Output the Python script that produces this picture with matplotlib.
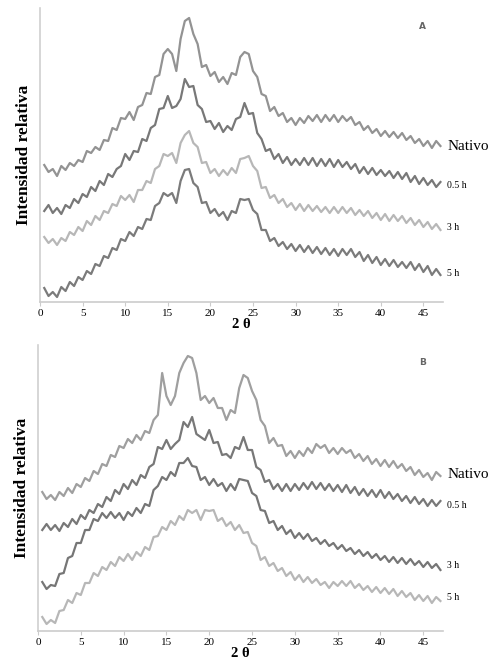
import matplotlib

matplotlib.use("Agg")

import matplotlib.pyplot as plt
import numpy as np

# 2-theta grid of the scans (degrees), 0.5 to 47 in 0.5 steps
two_theta = np.arange(1, 95) * 0.5

# panel A, heights above the axis (pixels)
a_nativo = [137, 130, 133, 126, 136, 132, 139, 136, 142, 140,
            151, 149, 155, 152, 162, 161, 174, 172, 184, 183,
            190, 182, 195, 197, 209, 208, 225, 227, 248, 253,
            248, 231, 263, 281, 284, 268, 258, 235, 237, 226,
            230, 220, 225, 218, 229, 227, 245, 250, 248, 231,
            225, 208, 206, 191, 195, 186, 189, 180, 184, 177,
            184, 179, 186, 181, 187, 180, 187, 181, 187, 180,
            186, 181, 185, 177, 180, 172, 176, 169, 173, 166,
            171, 165, 170, 164, 169, 162, 166, 159, 163, 156,
            161, 154, 161, 156]
a_05h = [91, 97, 89, 94, 88, 97, 94, 103, 99, 108,
         105, 115, 111, 121, 117, 128, 125, 133, 136, 148,
         142, 151, 150, 163, 161, 174, 177, 193, 194, 206,
         194, 196, 203, 223, 215, 216, 197, 193, 180, 181,
         173, 179, 170, 176, 172, 183, 185, 199, 188, 189,
         169, 163, 151, 153, 143, 148, 139, 145, 137, 143,
         137, 144, 137, 144, 136, 143, 136, 143, 135, 142,
         135, 140, 133, 138, 129, 135, 128, 134, 127, 132,
         126, 131, 124, 130, 123, 129, 120, 126, 118, 124,
         117, 122, 115, 120]
a_3h = [65, 59, 63, 57, 64, 61, 70, 67, 75, 71,
        81, 77, 86, 82, 91, 89, 98, 96, 106, 102,
        107, 100, 112, 112, 121, 119, 133, 136, 148, 146,
        149, 139, 159, 167, 171, 159, 155, 139, 140, 129,
        133, 126, 132, 127, 134, 129, 143, 144, 146, 136,
        131, 114, 115, 104, 107, 99, 103, 95, 99, 92,
        98, 91, 97, 91, 96, 90, 95, 89, 95, 89,
        95, 89, 94, 87, 92, 86, 91, 84, 89, 82,
        88, 81, 87, 81, 86, 79, 84, 77, 82, 75,
        80, 73, 78, 72]
a_5h = [14, 6, 10, 5, 15, 11, 20, 16, 25, 22,
        31, 28, 38, 36, 46, 44, 54, 52, 63, 61,
        70, 66, 75, 73, 83, 82, 96, 99, 109, 106,
        109, 99, 121, 132, 133, 119, 115, 99, 100, 89,
        93, 86, 90, 82, 91, 89, 103, 102, 103, 92,
        88, 72, 72, 61, 64, 56, 60, 53, 58, 51,
        57, 50, 56, 49, 55, 48, 54, 47, 53, 46,
        53, 47, 53, 45, 50, 41, 47, 39, 45, 37,
        43, 36, 42, 35, 40, 34, 40, 32, 38, 30,
        36, 27, 33, 27]

# panel B
b_nativo = [139, 132, 136, 131, 139, 135, 143, 138, 147, 144,
            153, 150, 160, 157, 167, 165, 176, 174, 185, 183,
            192, 188, 196, 191, 200, 198, 211, 216, 258, 235,
            226, 235, 258, 268, 275, 273, 258, 231, 235, 228,
            233, 223, 223, 211, 221, 218, 243, 256, 253, 240,
            231, 211, 205, 188, 193, 185, 186, 175, 180, 173,
            180, 175, 183, 178, 187, 183, 186, 178, 183, 177,
            183, 178, 181, 173, 177, 170, 175, 167, 172, 165,
            171, 164, 170, 163, 167, 160, 164, 156, 161, 154,
            158, 151, 159, 155]
b_05h = [101, 107, 101, 106, 100, 108, 104, 112, 107, 116,
         112, 121, 118, 127, 124, 134, 130, 141, 137, 147,
         142, 151, 146, 156, 153, 164, 167, 184, 182, 191,
         182, 187, 191, 209, 204, 214, 197, 194, 191, 201,
         188, 189, 176, 177, 173, 184, 182, 194, 181, 181,
         164, 161, 149, 151, 142, 147, 140, 147, 140, 147,
         141, 148, 142, 149, 142, 148, 141, 147, 140, 146,
         139, 146, 138, 144, 136, 142, 135, 141, 134, 141,
         133, 139, 132, 137, 130, 135, 128, 134, 127, 132,
         125, 131, 125, 130]
b_3h = [49, 42, 46, 45, 57, 58, 73, 75, 88, 88,
        101, 101, 112, 110, 118, 113, 119, 113, 118, 111,
        119, 115, 123, 118, 127, 125, 141, 145, 154, 151,
        159, 155, 168, 168, 173, 165, 164, 151, 154, 146,
        152, 145, 148, 140, 147, 141, 152, 151, 150, 138,
        135, 121, 120, 108, 110, 101, 105, 97, 101, 93,
        98, 92, 97, 90, 93, 87, 91, 85, 88, 82,
        86, 80, 83, 77, 81, 75, 79, 73, 77, 71,
        75, 69, 74, 68, 73, 67, 72, 66, 70, 64,
        69, 63, 67, 61]
b_5h = [14, 7, 11, 8, 20, 21, 31, 28, 38, 36,
        48, 48, 58, 55, 64, 61, 69, 65, 74, 70,
        77, 71, 79, 75, 84, 81, 94, 95, 104, 101,
        110, 106, 115, 111, 121, 118, 121, 111, 121, 120,
        121, 110, 113, 105, 109, 101, 106, 98, 99, 88,
        85, 71, 74, 65, 68, 60, 63, 55, 59, 51,
        56, 49, 54, 48, 52, 46, 49, 43, 49, 45,
        50, 45, 50, 43, 47, 41, 45, 39, 44, 38,
        43, 37, 42, 35, 40, 34, 38, 31, 36, 30,
        35, 28, 34, 30]

labels = ["Nativo", "0.5 h", "3 h", "5 h"]
label_y_a = [155, 117, 74, 29]
label_y_b = [157, 126, 65, 33]
label_size = [11, 7, 7, 7]
xticks = [0, 5, 10, 15, 20, 25, 30, 35, 40, 45]

W, H = 496, 664
fig = plt.figure(figsize=(W / 100, H / 100), dpi=100)
plt.rcParams["font.family"] = ["Liberation Serif", "DejaVu Serif"]


def add_panel(bottom_px, top_px, left_px, series, letter, label_y):
    ax = fig.add_axes([left_px / W, 1 - bottom_px / H, (443 - left_px) / W,
                       (bottom_px - top_px) / H])
    for y, color in series:
        ax.plot(two_theta, y, color=color, lw=1.6, alpha=0.85)
    ax.set_xlim(0, 47.3)
    ax.set_ylim(0, bottom_px - top_px)
    ax.set_xticks(xticks)
    ax.set_yticks([])
    ax.tick_params(axis="x", labelsize=8, length=3, color="#cccccc", pad=2)
    for side in ["top", "right"]:
        ax.spines[side].set_visible(False)
    ax.spines["left"].set_color("#d0d0d0")
    ax.spines["bottom"].set_color("#cccccc")
    ax.spines["left"].set_linewidth(1.2)
    ax.spines["bottom"].set_linewidth(1.2)
    ax.set_xlabel("2 θ", fontsize=10.5, fontweight="bold", labelpad=0)
    ax.set_ylabel("Intensidad relativa", fontsize=12.5, fontweight="bold", labelpad=6)
    ax.text(0.94, 0.93, letter, transform=ax.transAxes, fontsize=6.5,
            fontweight="bold", color="#666666", family="DejaVu Sans")
    for name, y, s in zip(labels, label_y, label_size):
        ax.text(47.8, y, name, fontsize=s, va="center", ha="left", clip_on=False)
    return ax


add_panel(302, 8, 40, [
    (a_nativo, "#808080"),
    (a_05h, "#606060"),
    (a_3h, "#ababab"),
    (a_5h, "#646464"),
], "A", label_y_a)

add_panel(631, 345, 38, [
    (b_nativo, "#8e8e8e"),
    (b_05h, "#606060"),
    (b_3h, "#5e5e5e"),
    (b_5h, "#ababab"),
], "B", label_y_b)

fig.savefig("out.png", dpi=100)
